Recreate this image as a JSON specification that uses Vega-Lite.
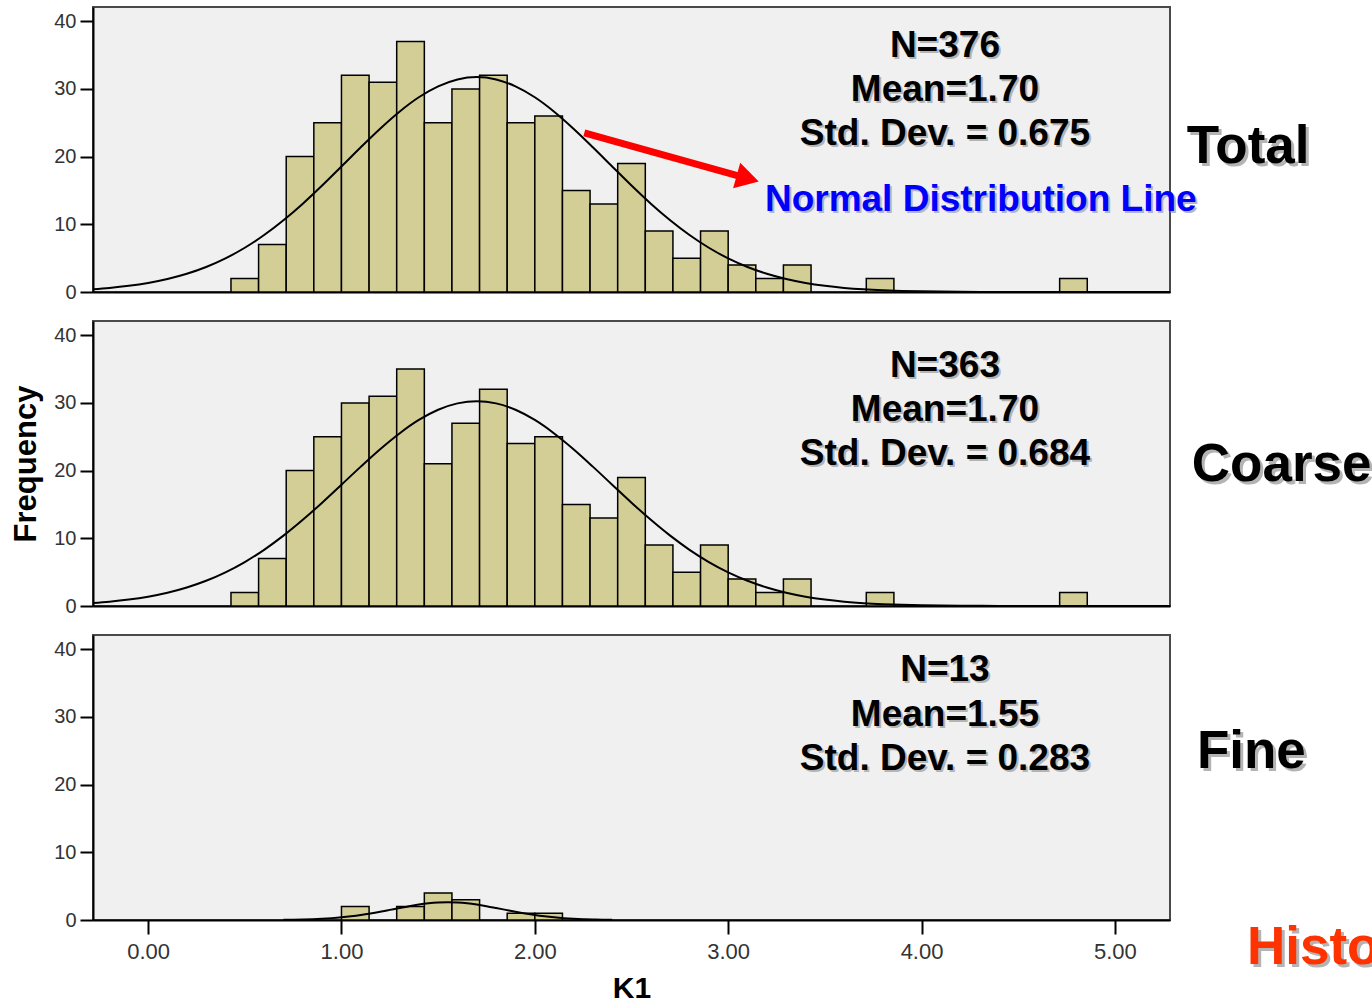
{
  "$schema": "https://vega.github.io/schema/vega-lite/v6.json",
  "background": "#ffffff",
  "padding": {"left": 9, "top": 6, "right": 0, "bottom": 0},
  "spacing": 17,
  "config": {
    "view": {"fill": "#f0f0f0", "stroke": "#4a4a4a", "strokeWidth": 2},
    "axis": {
      "domainColor": "#000000", "domainWidth": 2,
      "tickColor": "#000000", "tickWidth": 2, "grid": false,
      "labelFont": "Liberation Sans", "labelColor": "#333333",
      "titleFont": "Liberation Sans", "titleColor": "#000000"
    }
  },
  "datasets": {
    "bins": [
      {"group": "Total", "bin_start": 0.4286, "bin_end": 0.5714, "count": 2},
      {"group": "Total", "bin_start": 0.5714, "bin_end": 0.7143, "count": 7},
      {"group": "Total", "bin_start": 0.7143, "bin_end": 0.8571, "count": 20},
      {"group": "Total", "bin_start": 0.8571, "bin_end": 1.0, "count": 25},
      {"group": "Total", "bin_start": 1.0, "bin_end": 1.1429, "count": 32},
      {"group": "Total", "bin_start": 1.1429, "bin_end": 1.2857, "count": 31},
      {"group": "Total", "bin_start": 1.2857, "bin_end": 1.4286, "count": 37},
      {"group": "Total", "bin_start": 1.4286, "bin_end": 1.5714, "count": 25},
      {"group": "Total", "bin_start": 1.5714, "bin_end": 1.7143, "count": 30},
      {"group": "Total", "bin_start": 1.7143, "bin_end": 1.8571, "count": 32},
      {"group": "Total", "bin_start": 1.8571, "bin_end": 2.0, "count": 25},
      {"group": "Total", "bin_start": 2.0, "bin_end": 2.1429, "count": 26},
      {"group": "Total", "bin_start": 2.1429, "bin_end": 2.2857, "count": 15},
      {"group": "Total", "bin_start": 2.2857, "bin_end": 2.4286, "count": 13},
      {"group": "Total", "bin_start": 2.4286, "bin_end": 2.5714, "count": 19},
      {"group": "Total", "bin_start": 2.5714, "bin_end": 2.7143, "count": 9},
      {"group": "Total", "bin_start": 2.7143, "bin_end": 2.8571, "count": 5},
      {"group": "Total", "bin_start": 2.8571, "bin_end": 3.0, "count": 9},
      {"group": "Total", "bin_start": 3.0, "bin_end": 3.1429, "count": 4},
      {"group": "Total", "bin_start": 3.1429, "bin_end": 3.2857, "count": 2},
      {"group": "Total", "bin_start": 3.2857, "bin_end": 3.4286, "count": 4},
      {"group": "Total", "bin_start": 3.7143, "bin_end": 3.8571, "count": 2},
      {"group": "Total", "bin_start": 4.7143, "bin_end": 4.8571, "count": 2},
      {"group": "Coarse", "bin_start": 0.4286, "bin_end": 0.5714, "count": 2},
      {"group": "Coarse", "bin_start": 0.5714, "bin_end": 0.7143, "count": 7},
      {"group": "Coarse", "bin_start": 0.7143, "bin_end": 0.8571, "count": 20},
      {"group": "Coarse", "bin_start": 0.8571, "bin_end": 1.0, "count": 25},
      {"group": "Coarse", "bin_start": 1.0, "bin_end": 1.1429, "count": 30},
      {"group": "Coarse", "bin_start": 1.1429, "bin_end": 1.2857, "count": 31},
      {"group": "Coarse", "bin_start": 1.2857, "bin_end": 1.4286, "count": 35},
      {"group": "Coarse", "bin_start": 1.4286, "bin_end": 1.5714, "count": 21},
      {"group": "Coarse", "bin_start": 1.5714, "bin_end": 1.7143, "count": 27},
      {"group": "Coarse", "bin_start": 1.7143, "bin_end": 1.8571, "count": 32},
      {"group": "Coarse", "bin_start": 1.8571, "bin_end": 2.0, "count": 24},
      {"group": "Coarse", "bin_start": 2.0, "bin_end": 2.1429, "count": 25},
      {"group": "Coarse", "bin_start": 2.1429, "bin_end": 2.2857, "count": 15},
      {"group": "Coarse", "bin_start": 2.2857, "bin_end": 2.4286, "count": 13},
      {"group": "Coarse", "bin_start": 2.4286, "bin_end": 2.5714, "count": 19},
      {"group": "Coarse", "bin_start": 2.5714, "bin_end": 2.7143, "count": 9},
      {"group": "Coarse", "bin_start": 2.7143, "bin_end": 2.8571, "count": 5},
      {"group": "Coarse", "bin_start": 2.8571, "bin_end": 3.0, "count": 9},
      {"group": "Coarse", "bin_start": 3.0, "bin_end": 3.1429, "count": 4},
      {"group": "Coarse", "bin_start": 3.1429, "bin_end": 3.2857, "count": 2},
      {"group": "Coarse", "bin_start": 3.2857, "bin_end": 3.4286, "count": 4},
      {"group": "Coarse", "bin_start": 3.7143, "bin_end": 3.8571, "count": 2},
      {"group": "Coarse", "bin_start": 4.7143, "bin_end": 4.8571, "count": 2},
      {"group": "Fine", "bin_start": 1.0, "bin_end": 1.1429, "count": 2},
      {"group": "Fine", "bin_start": 1.2857, "bin_end": 1.4286, "count": 2},
      {"group": "Fine", "bin_start": 1.4286, "bin_end": 1.5714, "count": 4},
      {"group": "Fine", "bin_start": 1.5714, "bin_end": 1.7143, "count": 3},
      {"group": "Fine", "bin_start": 1.8571, "bin_end": 2.0, "count": 1},
      {"group": "Fine", "bin_start": 2.0, "bin_end": 2.1429, "count": 1}
    ],
    "curve": [
      {"group": "Total", "k1": -0.3, "freq": 0.394},
      {"group": "Total", "k1": -0.2, "freq": 0.604},
      {"group": "Total", "k1": -0.1, "freq": 0.907},
      {"group": "Total", "k1": 0.0, "freq": 1.332},
      {"group": "Total", "k1": 0.1, "freq": 1.913},
      {"group": "Total", "k1": 0.2, "freq": 2.688},
      {"group": "Total", "k1": 0.3, "freq": 3.695},
      {"group": "Total", "k1": 0.4, "freq": 4.970},
      {"group": "Total", "k1": 0.5, "freq": 6.537},
      {"group": "Total", "k1": 0.6, "freq": 8.417},
      {"group": "Total", "k1": 0.7, "freq": 10.60},
      {"group": "Total", "k1": 0.8, "freq": 13.05},
      {"group": "Total", "k1": 0.9, "freq": 15.73},
      {"group": "Total", "k1": 1.0, "freq": 18.55},
      {"group": "Total", "k1": 1.1, "freq": 21.39},
      {"group": "Total", "k1": 1.2, "freq": 24.13},
      {"group": "Total", "k1": 1.3, "freq": 26.64},
      {"group": "Total", "k1": 1.4, "freq": 28.77},
      {"group": "Total", "k1": 1.5, "freq": 30.38},
      {"group": "Total", "k1": 1.6, "freq": 31.40},
      {"group": "Total", "k1": 1.7, "freq": 31.75},
      {"group": "Total", "k1": 1.8, "freq": 31.40},
      {"group": "Total", "k1": 1.9, "freq": 30.38},
      {"group": "Total", "k1": 2.0, "freq": 28.77},
      {"group": "Total", "k1": 2.1, "freq": 26.64},
      {"group": "Total", "k1": 2.2, "freq": 24.13},
      {"group": "Total", "k1": 2.3, "freq": 21.39},
      {"group": "Total", "k1": 2.4, "freq": 18.55},
      {"group": "Total", "k1": 2.5, "freq": 15.73},
      {"group": "Total", "k1": 2.6, "freq": 13.05},
      {"group": "Total", "k1": 2.7, "freq": 10.60},
      {"group": "Total", "k1": 2.8, "freq": 8.417},
      {"group": "Total", "k1": 2.9, "freq": 6.537},
      {"group": "Total", "k1": 3.0, "freq": 4.970},
      {"group": "Total", "k1": 3.1, "freq": 3.695},
      {"group": "Total", "k1": 3.2, "freq": 2.688},
      {"group": "Total", "k1": 3.3, "freq": 1.913},
      {"group": "Total", "k1": 3.4, "freq": 1.332},
      {"group": "Total", "k1": 3.5, "freq": 0.907},
      {"group": "Total", "k1": 3.6, "freq": 0.604},
      {"group": "Total", "k1": 3.7, "freq": 0.394},
      {"group": "Total", "k1": 3.8, "freq": 0.251},
      {"group": "Total", "k1": 3.9, "freq": 0.157},
      {"group": "Total", "k1": 4.0, "freq": 0.096},
      {"group": "Total", "k1": 4.2, "freq": 0.033},
      {"group": "Total", "k1": 4.4, "freq": 0.011},
      {"group": "Total", "k1": 4.7, "freq": 0.001},
      {"group": "Total", "k1": 5.3, "freq": 0.0},
      {"group": "Coarse", "k1": -0.3, "freq": 0.421},
      {"group": "Coarse", "k1": -0.2, "freq": 0.639},
      {"group": "Coarse", "k1": -0.1, "freq": 0.948},
      {"group": "Coarse", "k1": 0.0, "freq": 1.378},
      {"group": "Coarse", "k1": 0.1, "freq": 1.961},
      {"group": "Coarse", "k1": 0.2, "freq": 2.733},
      {"group": "Coarse", "k1": 0.3, "freq": 3.724},
      {"group": "Coarse", "k1": 0.4, "freq": 4.971},
      {"group": "Coarse", "k1": 0.5, "freq": 6.491},
      {"group": "Coarse", "k1": 0.6, "freq": 8.301},
      {"group": "Coarse", "k1": 0.7, "freq": 10.39},
      {"group": "Coarse", "k1": 0.8, "freq": 12.73},
      {"group": "Coarse", "k1": 0.9, "freq": 15.26},
      {"group": "Coarse", "k1": 1.0, "freq": 17.92},
      {"group": "Coarse", "k1": 1.1, "freq": 20.59},
      {"group": "Coarse", "k1": 1.2, "freq": 23.16},
      {"group": "Coarse", "k1": 1.3, "freq": 25.49},
      {"group": "Coarse", "k1": 1.4, "freq": 27.48},
      {"group": "Coarse", "k1": 1.5, "freq": 28.99},
      {"group": "Coarse", "k1": 1.6, "freq": 29.93},
      {"group": "Coarse", "k1": 1.7, "freq": 30.25},
      {"group": "Coarse", "k1": 1.8, "freq": 29.93},
      {"group": "Coarse", "k1": 1.9, "freq": 28.99},
      {"group": "Coarse", "k1": 2.0, "freq": 27.48},
      {"group": "Coarse", "k1": 2.1, "freq": 25.49},
      {"group": "Coarse", "k1": 2.2, "freq": 23.16},
      {"group": "Coarse", "k1": 2.3, "freq": 20.59},
      {"group": "Coarse", "k1": 2.4, "freq": 17.92},
      {"group": "Coarse", "k1": 2.5, "freq": 15.26},
      {"group": "Coarse", "k1": 2.6, "freq": 12.73},
      {"group": "Coarse", "k1": 2.7, "freq": 10.39},
      {"group": "Coarse", "k1": 2.8, "freq": 8.301},
      {"group": "Coarse", "k1": 2.9, "freq": 6.491},
      {"group": "Coarse", "k1": 3.0, "freq": 4.971},
      {"group": "Coarse", "k1": 3.1, "freq": 3.724},
      {"group": "Coarse", "k1": 3.2, "freq": 2.733},
      {"group": "Coarse", "k1": 3.3, "freq": 1.961},
      {"group": "Coarse", "k1": 3.4, "freq": 1.378},
      {"group": "Coarse", "k1": 3.5, "freq": 0.948},
      {"group": "Coarse", "k1": 3.6, "freq": 0.639},
      {"group": "Coarse", "k1": 3.7, "freq": 0.421},
      {"group": "Coarse", "k1": 3.8, "freq": 0.272},
      {"group": "Coarse", "k1": 3.9, "freq": 0.171},
      {"group": "Coarse", "k1": 4.0, "freq": 0.106},
      {"group": "Coarse", "k1": 4.2, "freq": 0.038},
      {"group": "Coarse", "k1": 4.4, "freq": 0.0125},
      {"group": "Coarse", "k1": 4.7, "freq": 0.001},
      {"group": "Coarse", "k1": 5.3, "freq": 0.0},
      {"group": "Fine", "k1": 0.70, "freq": 0.029},
      {"group": "Fine", "k1": 0.75, "freq": 0.048},
      {"group": "Fine", "k1": 0.80, "freq": 0.078},
      {"group": "Fine", "k1": 0.85, "freq": 0.123},
      {"group": "Fine", "k1": 0.90, "freq": 0.187},
      {"group": "Fine", "k1": 0.95, "freq": 0.277},
      {"group": "Fine", "k1": 1.00, "freq": 0.396},
      {"group": "Fine", "k1": 1.05, "freq": 0.550},
      {"group": "Fine", "k1": 1.10, "freq": 0.740},
      {"group": "Fine", "k1": 1.15, "freq": 0.965},
      {"group": "Fine", "k1": 1.20, "freq": 1.219},
      {"group": "Fine", "k1": 1.25, "freq": 1.494},
      {"group": "Fine", "k1": 1.30, "freq": 1.773},
      {"group": "Fine", "k1": 1.35, "freq": 2.041},
      {"group": "Fine", "k1": 1.40, "freq": 2.277},
      {"group": "Fine", "k1": 1.45, "freq": 2.461},
      {"group": "Fine", "k1": 1.50, "freq": 2.579},
      {"group": "Fine", "k1": 1.55, "freq": 2.620},
      {"group": "Fine", "k1": 1.60, "freq": 2.579},
      {"group": "Fine", "k1": 1.65, "freq": 2.461},
      {"group": "Fine", "k1": 1.70, "freq": 2.277},
      {"group": "Fine", "k1": 1.75, "freq": 2.041},
      {"group": "Fine", "k1": 1.80, "freq": 1.773},
      {"group": "Fine", "k1": 1.85, "freq": 1.494},
      {"group": "Fine", "k1": 1.90, "freq": 1.219},
      {"group": "Fine", "k1": 1.95, "freq": 0.965},
      {"group": "Fine", "k1": 2.00, "freq": 0.740},
      {"group": "Fine", "k1": 2.05, "freq": 0.550},
      {"group": "Fine", "k1": 2.10, "freq": 0.396},
      {"group": "Fine", "k1": 2.15, "freq": 0.277},
      {"group": "Fine", "k1": 2.20, "freq": 0.187},
      {"group": "Fine", "k1": 2.25, "freq": 0.123},
      {"group": "Fine", "k1": 2.30, "freq": 0.078},
      {"group": "Fine", "k1": 2.35, "freq": 0.048},
      {"group": "Fine", "k1": 2.40, "freq": 0.029}
    ]
  },
  "vconcat": [
    {
      "width": 1077,
      "height": 285,
      "layer": [
        {
          "data": {"name": "bins"},
          "transform": [{"filter": "datum.group === 'Total'"}],
          "mark": {"type": "rect", "fill": "#d3ce96", "stroke": "#000000", "strokeWidth": 1.5},
          "encoding": {
            "x": {"field": "bin_start", "type": "quantitative",
                  "scale": {"domain": [-0.285, 5.285], "nice": false, "zero": false},
                  "axis": {"labels": false, "ticks": false, "title": null}},
            "x2": {"field": "bin_end"},
            "y": {"field": "count", "type": "quantitative",
                  "scale": {"domain": [0, 42.1], "nice": false},
                  "axis": {"values": [0, 10, 20, 30, 40], "tickSize": 13, "labelFontSize": 20, "labelPadding": 4, "title": null}},
            "y2": {"datum": 0}
          }
        },
        {
          "data": {"name": "curve"},
          "transform": [{"filter": "datum.group === 'Total'"}],
          "mark": {"type": "line", "color": "#000000", "strokeWidth": 2, "clip": true, "interpolate": "monotone"},
          "encoding": {
            "x": {"field": "k1", "type": "quantitative"},
            "y": {"field": "freq", "type": "quantitative"}
          }
        },
        {
          "data": {"values": [{}]},
          "mark": {"type": "rule", "color": "#ff0000", "strokeWidth": 7},
          "encoding": {
            "x": {"datum": 2.256}, "y": {"datum": 23.5},
            "x2": {"datum": 3.057}, "y2": {"datum": 17.13}
          }
        },
        {
          "data": {"values": [{}]},
          "mark": {"type": "point", "shape": "triangle-right", "size": 700, "angle": 15.6, "filled": true, "fill": "#ff0000", "opacity": 1, "strokeWidth": 0},
          "encoding": {"x": {"datum": 3.101}, "y": {"datum": 16.77}}
        },
        {
          "data": {"values": [{}]},
          "mark": {"type": "text", "text": ["N=376", "Mean=1.70", "Std. Dev. = 0.675"], "font": "Liberation Sans", "fontSize": 37, "fontWeight": "bold", "align": "center", "baseline": "alphabetic", "lineHeight": 44, "color": "#b4b4b4", "dx": 2, "dy": 2},
          "encoding": {"x": {"datum": 4.121}, "y": {"datum": 34.7}}
        },
        {
          "data": {"values": [{}]},
          "mark": {"type": "text", "text": ["N=376", "Mean=1.70", "Std. Dev. = 0.675"], "font": "Liberation Sans", "fontSize": 37, "fontWeight": "bold", "align": "center", "baseline": "alphabetic", "lineHeight": 44, "color": "#000000"},
          "encoding": {"x": {"datum": 4.121}, "y": {"datum": 34.7}}
        },
        {
          "data": {"values": [{}]},
          "mark": {"type": "text", "text": "Normal Distribution Line", "font": "Liberation Sans", "fontSize": 37, "fontWeight": "bold", "align": "left", "baseline": "alphabetic", "color": "#b4b4c8", "dx": 2, "dy": 2},
          "encoding": {"x": {"datum": 3.19}, "y": {"datum": 11.93}}
        },
        {
          "data": {"values": [{}]},
          "mark": {"type": "text", "text": "Normal Distribution Line", "font": "Liberation Sans", "fontSize": 37, "fontWeight": "bold", "align": "left", "baseline": "alphabetic", "color": "#0000ff"},
          "encoding": {"x": {"datum": 3.19}, "y": {"datum": 11.93}}
        },
        {
          "data": {"values": [{}]},
          "mark": {"type": "text", "text": "Total", "font": "Liberation Sans", "fontSize": 53, "fontWeight": "bold", "align": "left", "baseline": "alphabetic", "color": "#b4b4b4", "dx": 3, "dy": 3},
          "encoding": {"x": {"datum": 5.372}, "y": {"datum": 19.0}}
        },
        {
          "data": {"values": [{}]},
          "mark": {"type": "text", "text": "Total", "font": "Liberation Sans", "fontSize": 53, "fontWeight": "bold", "align": "left", "baseline": "alphabetic", "color": "#000000"},
          "encoding": {"x": {"datum": 5.372}, "y": {"datum": 19.0}}
        }
      ]
    },
    {
      "width": 1077,
      "height": 285,
      "layer": [
        {
          "data": {"name": "bins"},
          "transform": [{"filter": "datum.group === 'Coarse'"}],
          "mark": {"type": "rect", "fill": "#d3ce96", "stroke": "#000000", "strokeWidth": 1.5},
          "encoding": {
            "x": {"field": "bin_start", "type": "quantitative",
                  "scale": {"domain": [-0.285, 5.285], "nice": false, "zero": false},
                  "axis": {"labels": false, "ticks": false, "title": null}},
            "x2": {"field": "bin_end"},
            "y": {"field": "count", "type": "quantitative",
                  "scale": {"domain": [0, 42.1], "nice": false},
                  "axis": {"values": [0, 10, 20, 30, 40], "tickSize": 13, "labelFontSize": 20, "labelPadding": 4,
                           "title": "Frequency", "titleFontSize": 31, "titleFontWeight": "bold", "titlePadding": 11}},
            "y2": {"datum": 0}
          }
        },
        {
          "data": {"name": "curve"},
          "transform": [{"filter": "datum.group === 'Coarse'"}],
          "mark": {"type": "line", "color": "#000000", "strokeWidth": 2, "clip": true, "interpolate": "monotone"},
          "encoding": {
            "x": {"field": "k1", "type": "quantitative"},
            "y": {"field": "freq", "type": "quantitative"}
          }
        },
        {
          "data": {"values": [{}]},
          "mark": {"type": "text", "text": ["N=363", "Mean=1.70", "Std. Dev. = 0.684"], "font": "Liberation Sans", "fontSize": 37, "fontWeight": "bold", "align": "center", "baseline": "alphabetic", "lineHeight": 44, "color": "#b4b4b4", "dx": 2, "dy": 2},
          "encoding": {"x": {"datum": 4.121}, "y": {"datum": 33.9}}
        },
        {
          "data": {"values": [{}]},
          "mark": {"type": "text", "text": ["N=363", "Mean=1.70", "Std. Dev. = 0.684"], "font": "Liberation Sans", "fontSize": 37, "fontWeight": "bold", "align": "center", "baseline": "alphabetic", "lineHeight": 44, "color": "#000000"},
          "encoding": {"x": {"datum": 4.121}, "y": {"datum": 33.9}}
        },
        {
          "data": {"values": [{}]},
          "mark": {"type": "text", "text": "Coarse", "font": "Liberation Sans", "fontSize": 53, "fontWeight": "bold", "align": "left", "baseline": "alphabetic", "color": "#b4b4b4", "dx": 3, "dy": 3},
          "encoding": {"x": {"datum": 5.398}, "y": {"datum": 18.5}}
        },
        {
          "data": {"values": [{}]},
          "mark": {"type": "text", "text": "Coarse", "font": "Liberation Sans", "fontSize": 53, "fontWeight": "bold", "align": "left", "baseline": "alphabetic", "color": "#000000"},
          "encoding": {"x": {"datum": 5.398}, "y": {"datum": 18.5}}
        }
      ]
    },
    {
      "width": 1077,
      "height": 285,
      "layer": [
        {
          "data": {"name": "bins"},
          "transform": [{"filter": "datum.group === 'Fine'"}],
          "mark": {"type": "rect", "fill": "#d3ce96", "stroke": "#000000", "strokeWidth": 1.5},
          "encoding": {
            "x": {"field": "bin_start", "type": "quantitative",
                  "scale": {"domain": [-0.285, 5.285], "nice": false, "zero": false},
                  "axis": {"values": [0, 1, 2, 3, 4, 5], "format": ".2f", "tickSize": 14, "labelFontSize": 22, "labelPadding": 7,
                           "title": "K1", "titleFontSize": 30, "titleFontWeight": "bold", "titlePadding": 11}},
            "x2": {"field": "bin_end"},
            "y": {"field": "count", "type": "quantitative",
                  "scale": {"domain": [0, 42.1], "nice": false},
                  "axis": {"values": [0, 10, 20, 30, 40], "tickSize": 13, "labelFontSize": 20, "labelPadding": 4, "title": null}},
            "y2": {"datum": 0}
          }
        },
        {
          "data": {"name": "curve"},
          "transform": [{"filter": "datum.group === 'Fine'"}],
          "mark": {"type": "line", "color": "#000000", "strokeWidth": 2, "clip": true, "interpolate": "monotone"},
          "encoding": {
            "x": {"field": "k1", "type": "quantitative"},
            "y": {"field": "freq", "type": "quantitative"}
          }
        },
        {
          "data": {"values": [{}]},
          "mark": {"type": "text", "text": ["N=13", "Mean=1.55", "Std. Dev. = 0.283"], "font": "Liberation Sans", "fontSize": 37, "fontWeight": "bold", "align": "center", "baseline": "alphabetic", "lineHeight": 44.5, "color": "#b4b4b4", "dx": 2, "dy": 2},
          "encoding": {"x": {"datum": 4.121}, "y": {"datum": 35.3}}
        },
        {
          "data": {"values": [{}]},
          "mark": {"type": "text", "text": ["N=13", "Mean=1.55", "Std. Dev. = 0.283"], "font": "Liberation Sans", "fontSize": 37, "fontWeight": "bold", "align": "center", "baseline": "alphabetic", "lineHeight": 44.5, "color": "#000000"},
          "encoding": {"x": {"datum": 4.121}, "y": {"datum": 35.3}}
        },
        {
          "data": {"values": [{}]},
          "mark": {"type": "text", "text": "Fine", "font": "Liberation Sans", "fontSize": 53, "fontWeight": "bold", "align": "left", "baseline": "alphabetic", "color": "#b4b4b4", "dx": 3, "dy": 3},
          "encoding": {"x": {"datum": 5.424}, "y": {"datum": 22.45}}
        },
        {
          "data": {"values": [{}]},
          "mark": {"type": "text", "text": "Fine", "font": "Liberation Sans", "fontSize": 53, "fontWeight": "bold", "align": "left", "baseline": "alphabetic", "color": "#000000"},
          "encoding": {"x": {"datum": 5.424}, "y": {"datum": 22.45}}
        },
        {
          "data": {"values": [{}]},
          "mark": {"type": "text", "text": "Histogram", "font": "Liberation Sans", "fontSize": 53, "fontWeight": "bold", "align": "left", "baseline": "alphabetic", "color": "#b4b4b4", "dx": 3, "dy": 3},
          "encoding": {"x": {"datum": 5.683}, "y": {"datum": -6.5}}
        },
        {
          "data": {"values": [{}]},
          "mark": {"type": "text", "text": "Histogram", "font": "Liberation Sans", "fontSize": 53, "fontWeight": "bold", "align": "left", "baseline": "alphabetic", "color": "#ff3300"},
          "encoding": {"x": {"datum": 5.683}, "y": {"datum": -6.5}}
        }
      ]
    }
  ]
}
